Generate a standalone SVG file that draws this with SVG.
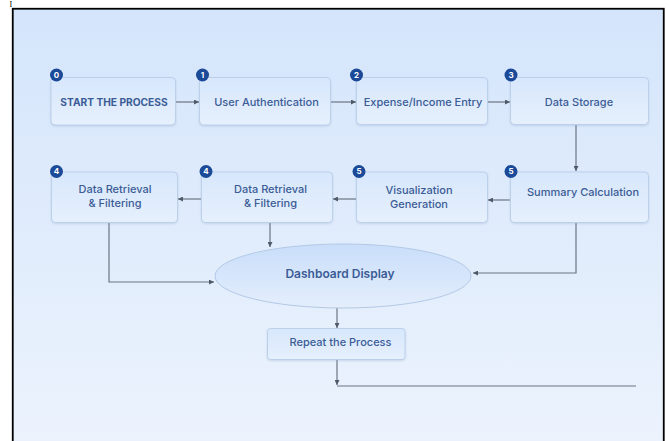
<svg xmlns="http://www.w3.org/2000/svg" width="669" height="441" viewBox="0 0 669 441">
<defs>
<linearGradient id="bg" x1="0" y1="0" x2="0" y2="1">
<stop offset="0" stop-color="#d4e5fb"/>
<stop offset="1" stop-color="#ecf3fd"/>
</linearGradient>
<linearGradient id="box" x1="0" y1="0" x2="0" y2="1">
<stop offset="0" stop-color="#d7e7fc"/>
<stop offset="1" stop-color="#e6f0fd"/>
</linearGradient>
<linearGradient id="ell" x1="0" y1="0" x2="0" y2="1">
<stop offset="0" stop-color="#c9defa"/>
<stop offset="1" stop-color="#e4eefc"/>
</linearGradient>
<marker id="ah" viewBox="0 0 6 6" refX="6" refY="3" markerWidth="5" markerHeight="5" orient="auto" markerUnits="userSpaceOnUse">
<path d="M0,0 L6,3 L0,6 z" fill="#4f5a68"/>
</marker>
<filter id="sh" x="-10%" y="-10%" width="120%" height="130%">
<feDropShadow dx="0" dy="1" stdDeviation="1" flood-color="#8aa4c8" flood-opacity="0.35"/>
</filter>
</defs>
<style>
.box{fill:url(#box);stroke:#bcd0ea;stroke-width:1;filter:url(#sh)}
.lbl{font-family:Inter,"Liberation Sans",sans-serif;font-size:11px;font-weight:500;fill:#3b5c96;text-anchor:middle}
.badge{fill:#1b4a98}
.num{font-family:Inter,"Liberation Sans",sans-serif;font-size:8px;font-weight:700;fill:#ffffff;text-anchor:middle}
.con{fill:none;stroke:#6b7583;stroke-width:1.2}
</style>
<rect x="0" y="0" width="669" height="441" fill="#ffffff"/>
<text x="9.5" y="7" font-family="Liberation Serif,serif" font-size="8" fill="#000">I</text>
<rect x="12.75" y="8.75" width="651" height="440" fill="url(#bg)" stroke="#000" stroke-width="1.8"/>

<g id="connectors">
<line class="con" x1="176" y1="102" x2="199" y2="102" marker-end="url(#ah)"/>
<line class="con" x1="331" y1="102" x2="356" y2="102" marker-end="url(#ah)"/>
<line class="con" x1="488" y1="102" x2="510" y2="102" marker-end="url(#ah)"/>
<line class="con" x1="576" y1="125" x2="576" y2="171" marker-end="url(#ah)"/>
<line class="con" x1="510" y1="200" x2="488" y2="200" marker-end="url(#ah)"/>
<line class="con" x1="356" y1="199" x2="333" y2="199" marker-end="url(#ah)"/>
<line class="con" x1="201" y1="199" x2="178" y2="199" marker-end="url(#ah)"/>
<polyline class="con" points="109,223 109,282 214,282" marker-end="url(#ah)"/>
<line class="con" x1="270" y1="223" x2="270" y2="247" marker-end="url(#ah)"/>
<polyline class="con" points="576,223 576,273 473,273" marker-end="url(#ah)"/>
<line class="con" x1="337" y1="308" x2="337" y2="328" marker-end="url(#ah)"/>
<line class="con" x1="337" y1="359" x2="337" y2="385" marker-end="url(#ah)"/>
<line class="con" x1="337" y1="386" x2="636" y2="386"/>
</g>

<g id="n0">
<rect class="box" x="51" y="77.5" width="124.5" height="47.5" rx="4"/>
<text class="lbl" x="114" y="106" style="font-weight:700;font-size:10.2px">START THE PROCESS</text>
<circle class="badge" cx="56.5" cy="75" r="6.5"/>
<text class="num" x="56.5" y="77.8">0</text>
</g>
<g id="n1">
<rect class="box" x="199.5" y="77.5" width="131" height="47.5" rx="4"/>
<text class="lbl" x="266.5" y="106">User Authentication</text>
<circle class="badge" cx="202.5" cy="75" r="6.5"/>
<text class="num" x="202.5" y="77.8">1</text>
</g>
<g id="n2">
<rect class="box" x="356.5" y="77.5" width="131" height="47" rx="4"/>
<text class="lbl" x="423" y="106">Expense/Income Entry</text>
<circle class="badge" cx="356.5" cy="75" r="6.5"/>
<text class="num" x="356.5" y="77.8">2</text>
</g>
<g id="n3">
<rect class="box" x="510.5" y="77.5" width="138" height="47" rx="4"/>
<text class="lbl" x="579" y="106">Data Storage</text>
<circle class="badge" cx="511" cy="75" r="6.5"/>
<text class="num" x="511" y="77.8">3</text>
</g>
<g id="n4a">
<rect class="box" x="51.5" y="172" width="126" height="50.5" rx="4"/>
<text class="lbl" x="115" y="193">Data Retrieval</text>
<text class="lbl" x="115" y="207">&amp; Filtering</text>
<circle class="badge" cx="56.5" cy="171.5" r="6.5"/>
<text class="num" x="56.5" y="174.3">4</text>
</g>
<g id="n4b">
<rect class="box" x="201.5" y="172" width="131" height="50.5" rx="4"/>
<text class="lbl" x="270.5" y="193">Data Retrieval</text>
<text class="lbl" x="270.5" y="207">&amp; Filtering</text>
<circle class="badge" cx="206" cy="171.5" r="6.5"/>
<text class="num" x="206" y="174.3">4</text>
</g>
<g id="n5a">
<rect class="box" x="356.5" y="172" width="131" height="50.5" rx="4"/>
<text class="lbl" x="419" y="193.5">Visualization</text>
<text class="lbl" x="419" y="208">Generation</text>
<circle class="badge" cx="359" cy="171.5" r="6.5"/>
<text class="num" x="359" y="174.3">5</text>
</g>
<g id="n5b">
<rect class="box" x="510.5" y="172" width="138" height="50.5" rx="4"/>
<text class="lbl" x="583" y="196">Summary Calculation</text>
<circle class="badge" cx="511" cy="171.5" r="6.5"/>
<text class="num" x="511" y="174.3">5</text>
</g>
<g id="dashboard">
<ellipse cx="343" cy="276" rx="128" ry="32" fill="url(#ell)" stroke="#b3c9e6" stroke-width="1"/>
<text class="lbl" x="340" y="277.5" style="font-size:12px;font-weight:600">Dashboard Display</text>
</g>
<g id="repeat">
<rect class="box" x="267.5" y="328.5" width="137.5" height="31" rx="3"/>
<text class="lbl" x="340.5" y="346">Repeat the Process</text>
</g>
</svg>
